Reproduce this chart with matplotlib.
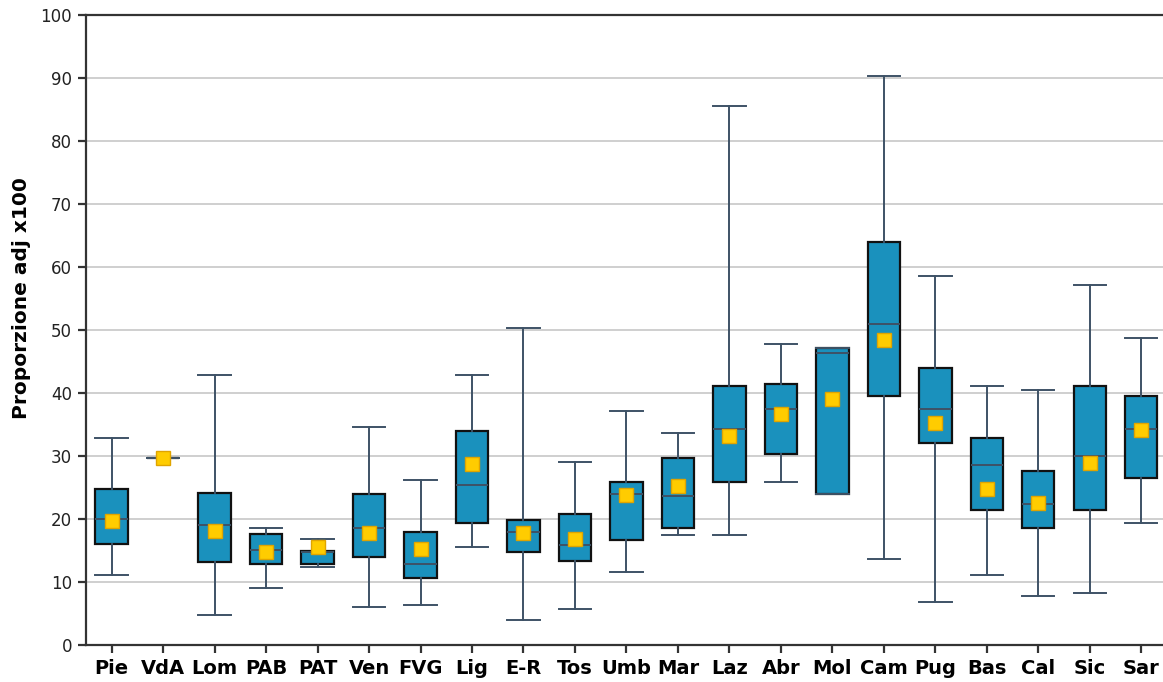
import numpy as np
import matplotlib
matplotlib.use("Agg")
import matplotlib.pyplot as plt

plt.rcParams['font.family'] = ['DejaVu Sans']

regions = ["Pie", "VdA", "Lom", "PAB", "PAT", "Ven", "FVG", "Lig", "E-R", "Tos", "Umb",
           "Mar", "Laz", "Abr", "Mol", "Cam", "Pug", "Bas", "Cal", "Sic", "Sar"]
whis_lo = [11.1, 29.7, 4.8, 9.1, 12.3, 6.0, 6.3, 15.6, 3.9, 5.7, 11.6,
           17.4, 17.4, 25.9, 24.0, 13.7, 6.8, 11.1, 7.7, 8.2, 19.4]
q1 = [16.0, 29.7, 13.1, 12.8, 12.8, 14.0, 10.6, 19.4, 14.8, 13.4, 16.6,
      18.5, 25.9, 30.3, 24.0, 39.6, 32.0, 21.4, 18.5, 21.4, 26.5]
medians = [20.0, 29.7, 19.1, 15.1, 14.7, 18.5, 12.8, 25.4, 18.0, 15.9, 24.0,
           23.7, 34.3, 37.5, 46.4, 50.9, 37.5, 28.6, 22.3, 30.0, 34.3]
q3 = [24.8, 29.7, 24.2, 17.6, 14.9, 24.0, 17.9, 33.9, 19.9, 20.8, 25.9,
      29.6, 41.1, 41.4, 47.1, 64.0, 43.9, 32.8, 27.6, 41.1, 39.6]
whis_hi = [32.9, 29.7, 42.8, 18.5, 16.8, 34.6, 26.2, 42.8, 50.3, 29.1, 37.1,
           33.7, 85.5, 47.7, 47.1, 90.3, 58.6, 41.1, 40.5, 57.1, 48.8]
means = [19.6, 29.6, 18.1, 14.7, 15.6, 17.8, 15.2, 28.7, 17.8, 16.9, 23.8,
         25.3, 33.2, 36.7, 39.0, 48.4, 35.3, 24.7, 22.6, 28.9, 34.1]

box_blue = "#1a91bd"
slate = "#3e5266"

fig = plt.figure(figsize=(11.63, 6.82), dpi=100)
ax = fig.add_axes([0.0739, 0.0543, 0.9295, 0.9237])

stats = []
for i, r in enumerate(regions):
    stats.append(dict(label=r, whislo=whis_lo[i], q1=q1[i], med=medians[i],
                      q3=q3[i], whishi=whis_hi[i], mean=means[i]))

ax.bxp(stats, positions=np.arange(len(regions)), widths=0.63, patch_artist=True,
       showmeans=True, showfliers=False,
       boxprops=dict(facecolor=box_blue, edgecolor="#111111", linewidth=1.6),
       medianprops=dict(color=slate, linewidth=1.4),
       whiskerprops=dict(color=slate, linewidth=1.4),
       capprops=dict(color=slate, linewidth=1.4),
       meanprops=dict(marker="s", markerfacecolor="#ffcc00", markeredgecolor="#e0a400",
                      markersize=9.5, markeredgewidth=1.0),
       capwidths=0.63, zorder=3)

ax.set_xlim(-0.5, len(regions) - 0.5)
ax.set_ylim(0, 100)
ax.set_yticks(np.arange(0, 101, 10))
ax.yaxis.grid(True, color="#cccccc", linewidth=1.3, zorder=0)
ax.set_axisbelow(True)

for s in ["left", "bottom", "top"]:
    ax.spines[s].set_color("#333333")
    ax.spines[s].set_linewidth(1.6)
ax.spines["right"].set_visible(False)

ax.tick_params(axis="both", direction="out", length=6, width=1.6, color="#333333")
ax.tick_params(axis="y", labelsize=12, pad=4, labelcolor="#222222")
ax.tick_params(axis="x", labelsize=14, pad=4)
for lab in ax.get_xticklabels():
    lab.set_fontweight("bold")

ax.set_ylabel("Proporzione adj x100", fontsize=14.5, fontweight="bold")
ax.yaxis.set_label_coords(-0.051, 0.551)

fig.savefig("out.png", dpi=100)
